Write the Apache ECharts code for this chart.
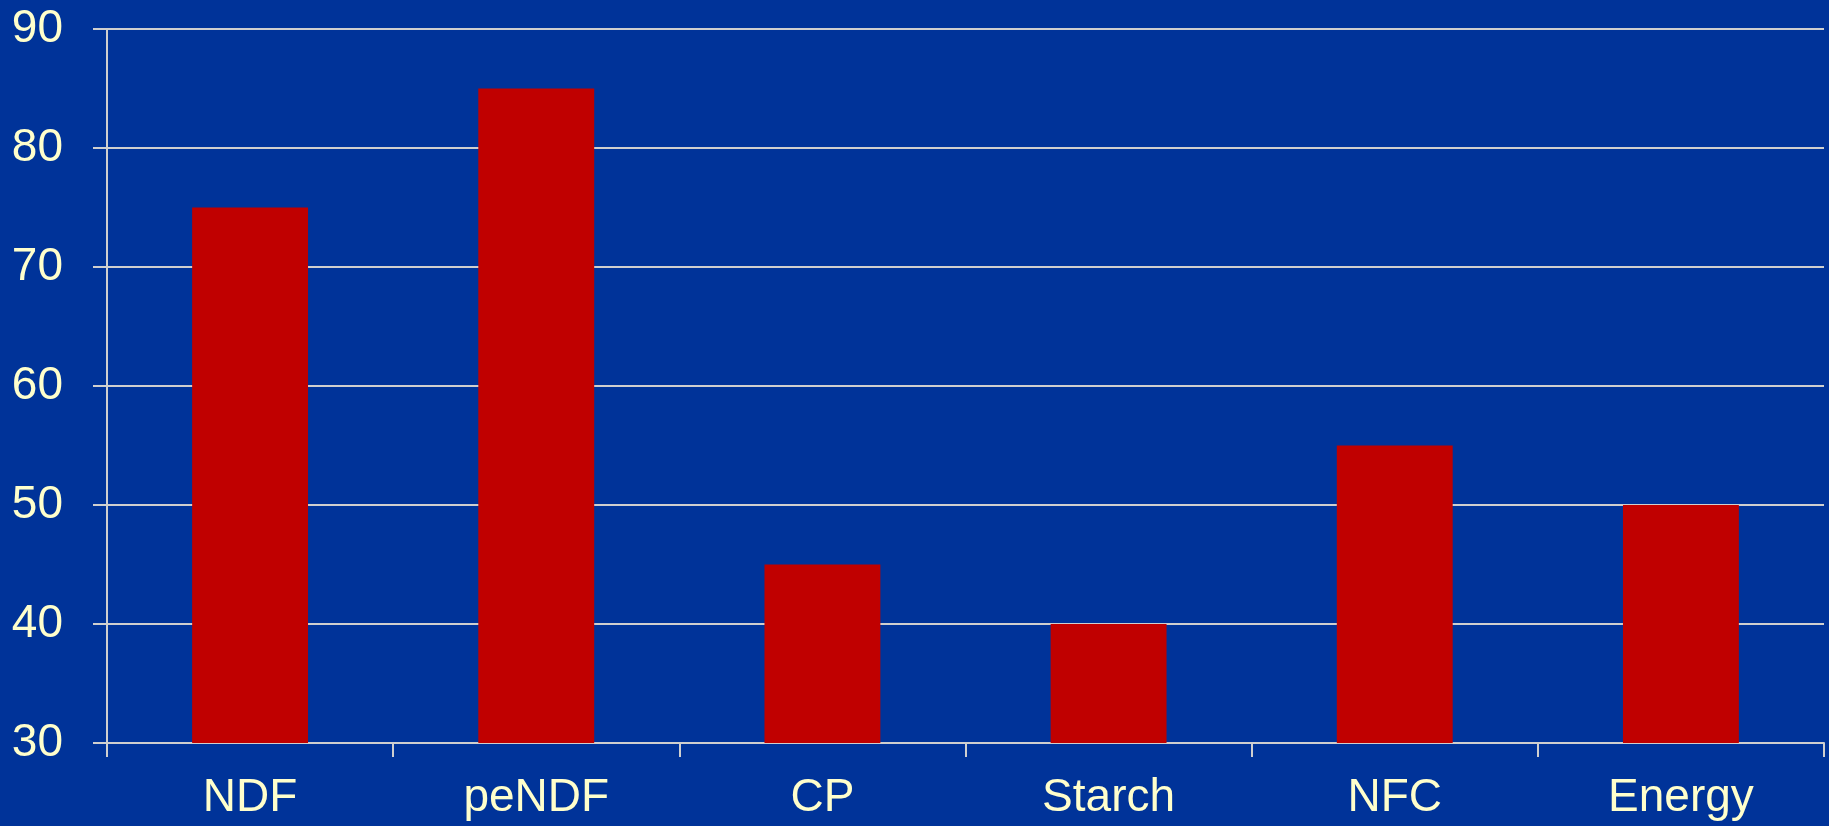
<!DOCTYPE html>
<html>
<head>
<meta charset="utf-8">
<script src="https://cdn.jsdelivr.net/npm/echarts@6/dist/echarts.min.js"></script>
<style>
  html, body { margin: 0; padding: 0; background: #003399; }
  #chart { width: 1829px; height: 826px; }
</style>
</head>
<body>
<div id="chart"></div>
<script>
// categories and values
var categories = ['NDF', 'peNDF', 'CP', 'Starch', 'NFC', 'Energy'];
var values = [75, 85, 45, 40, 55, 50];
var yTicks = [30, 40, 50, 60, 70, 80, 90];

var chart = echarts.init(document.getElementById('chart'));
var lineColor = '#cfcfcf';
var textColor = '#ffffcc';

chart.setOption({
  backgroundColor: '#003399',
  animation: false,
  grid: {
    left: 107,
    right: 5,
    top: 29,
    bottom: 83
  },
  xAxis: {
    type: 'category',
    data: categories,
    boundaryGap: true,
    axisLine: { lineStyle: { color: lineColor, width: 2 } },
    axisTick: { show: true, length: 14, alignWithLabel: false, lineStyle: { color: lineColor, width: 2 } },
    axisLabel: {
      color: textColor,
      fontFamily: 'Liberation Sans, Arial, sans-serif',
      fontSize: 46,
      margin: 32
    }
  },
  yAxis: {
    type: 'value',
    min: yTicks[0],
    max: yTicks[yTicks.length - 1],
    interval: 10,
    axisLine: { show: true, lineStyle: { color: lineColor, width: 2 } },
    axisTick: { show: true, length: 14, lineStyle: { color: lineColor, width: 2 } },
    splitLine: { show: true, lineStyle: { color: lineColor, width: 2 } },
    axisLabel: {
      color: textColor,
      fontFamily: 'Liberation Sans, Arial, sans-serif',
      fontSize: 46,
      margin: 44
    }
  },
  series: [
    {
      type: 'bar',
      data: values,
      barWidth: '40.5%',
      itemStyle: { color: '#c00000' }
    }
  ]
});
</script>
</body>
</html>
